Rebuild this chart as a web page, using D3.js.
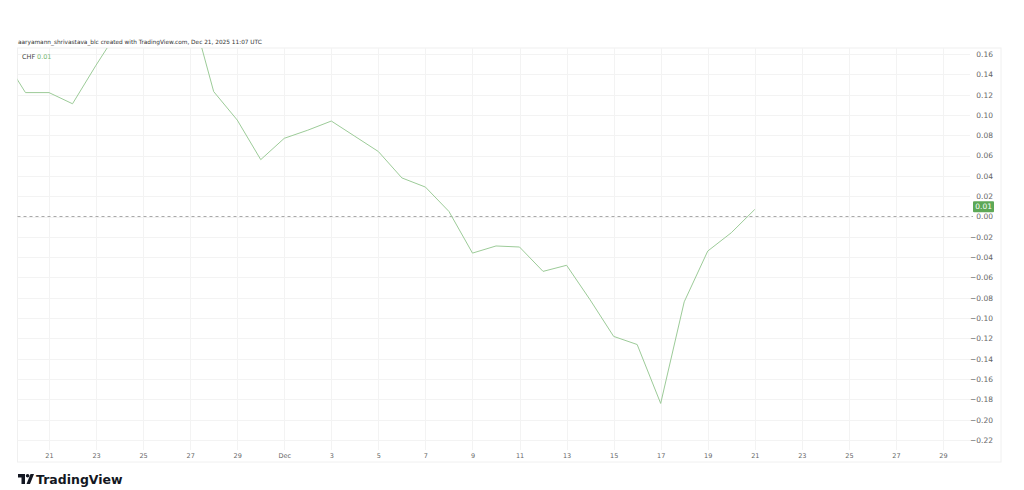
<!DOCTYPE html>
<html>
<head>
<meta charset="utf-8">
<script src="https://cdn.jsdelivr.net/npm/d3@7"></script>
<style>
  body { margin: 0; background: #fff; }
  text { font-family: "DejaVu Sans", sans-serif; }
</style>
</head>
<body>
<div id="chart"></div>
<script>
// daily CHF values
var dates = ["2025-11-19","2025-11-20","2025-11-21","2025-11-22","2025-11-23","2025-11-24","2025-11-25",
  "2025-11-26","2025-11-27","2025-11-28","2025-11-29","2025-11-30","2025-12-01","2025-12-02","2025-12-03",
  "2025-12-04","2025-12-05","2025-12-06","2025-12-07","2025-12-08","2025-12-09","2025-12-10","2025-12-11",
  "2025-12-12","2025-12-13","2025-12-14","2025-12-15","2025-12-16","2025-12-17","2025-12-18","2025-12-19",
  "2025-12-20","2025-12-21"];
var values = [0.159, 0.122, 0.122, 0.111, 0.149, 0.185, 0.200,
  0.210, 0.208, 0.123, 0.095, 0.056, 0.077, 0.085, 0.094,
  0.079, 0.064, 0.038, 0.029, 0.005, -0.036, -0.029, -0.030,
  -0.054, -0.048, -0.082, -0.118, -0.126, -0.184, -0.084, -0.034,
  -0.016, 0.007];
var timeTicks = ["2025-11-21","2025-11-23","2025-11-25","2025-11-27","2025-11-29","2025-12-01","2025-12-03",
  "2025-12-05","2025-12-07","2025-12-09","2025-12-11","2025-12-13","2025-12-15","2025-12-17","2025-12-19",
  "2025-12-21","2025-12-23","2025-12-25","2025-12-27","2025-12-29"];
var priceTicks = [0.16,0.14,0.12,0.10,0.08,0.06,0.04,0.02,0.00,-0.02,-0.04,-0.06,-0.08,-0.10,-0.12,
  -0.14,-0.16,-0.18,-0.20,-0.22];
var lastValue = 0.01;
var header = "aaryamann_shrivastava_blc created with TradingView.com, Dec 21, 2025 11:07 UTC";

var svgWidth = 1024, svgHeight = 490;
var pane = {left: 17.5, top: 48, right: 970, bottom: 450};

var parse = d3.utcParse("%Y-%m-%d");
var data = dates.map(function(d, i) { return {date: parse(d), value: values[i]}; });

var svg = d3.select("#chart").append("svg")
  .attr("width", svgWidth)
  .attr("height", svgHeight);

var xScale = d3.scaleUtc()
  .domain([parse("2025-11-21"), parse("2025-12-29")])
  .range([49, 943]);

var yScale = d3.scaleLinear()
  .domain([-0.22, 0.16])
  .range([440, 54]);

// outer pane border
svg.append("rect")
  .attr("x", pane.left).attr("y", pane.top)
  .attr("width", 1001 - pane.left).attr("height", 462 - pane.top)
  .attr("fill", "none").attr("stroke", "#f0f0f0");

// grid
var grid = svg.append("g");
grid.selectAll("line.h").data(priceTicks).enter().append("line")
  .attr("x1", pane.left).attr("x2", pane.right)
  .attr("y1", d => Math.round(yScale(d)) + 0.5).attr("y2", d => Math.round(yScale(d)) + 0.5)
  .attr("stroke", "#f3f3f3");
grid.selectAll("line.v").data(timeTicks).enter().append("line")
  .attr("x1", d => Math.round(xScale(parse(d))) + 0.5).attr("x2", d => Math.round(xScale(parse(d))) + 0.5)
  .attr("y1", pane.top).attr("y2", pane.bottom)
  .attr("stroke", "#f3f3f3");

// zero line
svg.append("line")
  .attr("x1", pane.left).attr("x2", pane.right + 3)
  .attr("y1", yScale(0)).attr("y2", yScale(0))
  .attr("stroke", "#a8a8a8").attr("stroke-dasharray", "3,3");

// clipped series line
svg.append("clipPath").attr("id", "clip")
  .append("rect")
  .attr("x", pane.left).attr("y", pane.top)
  .attr("width", pane.right - pane.left).attr("height", pane.bottom - pane.top);

var line = d3.line()
  .x(d => xScale(d.date))
  .y(d => yScale(d.value));

svg.append("path")
  .datum(data)
  .attr("clip-path", "url(#clip)")
  .attr("d", line)
  .attr("fill", "none")
  .attr("stroke", "#9ccb98")
  .attr("stroke-width", 1);

// time axis
var bottomAxis = d3.axisBottom(xScale)
  .tickValues(timeTicks.map(parse))
  .tickSize(0)
  .tickFormat(d => d.getUTCDate() === 1 ? d3.utcFormat("%b")(d) : d.getUTCDate());
var xAxis = svg.append("g")
  .attr("transform", `translate(0, ${pane.bottom})`)
  .call(bottomAxis);
xAxis.select(".domain").remove();
xAxis.selectAll("text")
  .attr("dy", 0).attr("y", 7.5)
  .attr("font-family", "DejaVu Sans")
  .attr("font-size", 6.5)
  .attr("fill", "#666");

// price axis
var rightAxis = d3.axisRight(yScale)
  .tickValues(priceTicks)
  .tickSize(0)
  .tickFormat(d3.format(".2f"));
var yAxis = svg.append("g")
  .attr("transform", "translate(993, 0)")
  .call(rightAxis);
yAxis.select(".domain").remove();
yAxis.selectAll("text")
  .attr("x", 0)
  .attr("text-anchor", "end")
  .attr("font-family", "DejaVu Sans")
  .attr("font-size", 7.5)
  .attr("fill", "#666");

// last value label
var ly = yScale(lastValue);
svg.append("rect")
  .attr("x", 973).attr("y", ly - 5)
  .attr("width", 21).attr("height", 11)
  .attr("rx", 1)
  .attr("fill", "#5da856");
svg.append("text")
  .attr("x", 992).attr("y", ly + 3)
  .attr("text-anchor", "end")
  .attr("font-size", 7.5)
  .attr("fill", "#fff")
  .text(d3.format(".2f")(lastValue));

// header + legend
svg.append("text")
  .attr("x", 18).attr("y", 44)
  .attr("font-size", 5.8)
  .attr("fill", "#333")
  .text(header);
svg.append("text")
  .attr("x", 22).attr("y", 59)
  .attr("font-size", 6.5)
  .attr("fill", "#444")
  .text("CHF");
svg.append("text")
  .attr("x", 37).attr("y", 59)
  .attr("font-size", 6.5)
  .attr("fill", "#7ab873")
  .text(d3.format(".2f")(lastValue));

// TradingView mark
var logo = svg.append("g").attr("transform", "translate(18, 474)");
logo.append("path").attr("d", "M0,0 H7 V10 H3.5 V3.5 H0 Z").attr("fill", "#131722");
logo.append("circle").attr("cx", 9.6).attr("cy", 1.8).attr("r", 1.8).attr("fill", "#131722");
logo.append("path").attr("d", "M12.5,0 H16 L12,10 H8.5 Z").attr("fill", "#131722");
svg.append("text")
  .attr("x", 36).attr("y", 484)
  .attr("font-family", "Inter, 'DejaVu Sans', sans-serif")
  .attr("font-weight", 700)
  .attr("font-size", 12.5)
  .attr("fill", "#131722")
  .text("TradingView");
</script>
</body>
</html>
